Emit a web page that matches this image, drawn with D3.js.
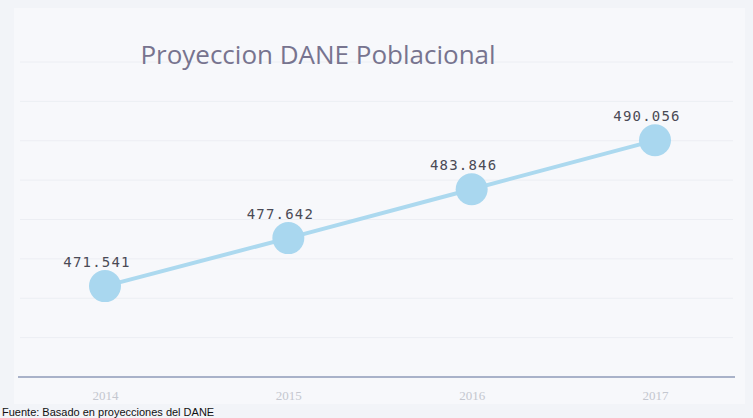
<!DOCTYPE html>
<html>
<head>
<meta charset="utf-8">
<script src="https://cdn.jsdelivr.net/npm/d3@7"></script>
<style>
  body { margin: 0; background: #f2f4f8; }
  svg { display: block; }
</style>
</head>
<body>
<div class="chart-container"></div>
<script>
const years = ['2014', '2015', '2016', '2017'];
const population = [471541, 477642, 483846, 490056];
const valueLabels = ['471.541', '477.642', '483.846', '490.056'];
const yTicks = [460000, 465000, 470000, 475000, 480000, 485000, 490000, 495000, 500000];

const width = 753, height = 418;
let margin = { top: 62, right: 30, bottom: 43, left: 15 };

let svg = d3.select('.chart-container')
  .append('svg')
  .attr('width', width)
  .attr('height', height);

// chart area background
svg.append('rect')
  .attr('x', 14).attr('y', 8)
  .attr('width', width - 22).attr('height', 396)
  .attr('fill', '#f7f8fb');

let x = d3.scalePoint()
  .domain(years)
  .range([105, 655]);

let y = d3.scaleLinear()
  .domain([460000, 500000])
  .range([height - margin.bottom + 2, margin.top]);

// gridlines
svg.append('g')
  .selectAll('line')
  .data(yTicks.slice(1))
  .join('line')
  .attr('x1', margin.left + 5)
  .attr('x2', width - margin.right + 10)
  .attr('y1', d => y(d))
  .attr('y2', d => y(d))
  .attr('stroke', '#eceef3')
  .attr('stroke-width', 1);

// x axis
let xAxis = svg.append('g')
  .attr('transform', 'translate(0,' + y(460000) + ')')
  .call(d3.axisBottom(x).tickSize(0).tickPadding(14));
xAxis.select('.domain')
  .attr('d', 'M' + (margin.left + 3) + ',0H' + (width - margin.right + 12))
  .attr('stroke', '#8f9bb8')
  .attr('stroke-width', 1.5);
xAxis.selectAll('text')
  .attr('fill', '#c4c7cf')
  .attr('font-family', 'Liberation Serif, serif')
  .attr('font-size', 13);

// line
svg.append('path')
  .datum(population)
  .attr('fill', 'none')
  .attr('stroke', '#acd9ef')
  .attr('stroke-width', 4)
  .attr('d', d3.line()
    .x((d, i) => x(years[i]))
    .y(d => y(d)));

// markers
svg.append('g')
  .selectAll('circle')
  .data(population)
  .join('circle')
  .attr('cx', (d, i) => x(years[i]))
  .attr('cy', d => y(d))
  .attr('r', 16)
  .attr('fill', '#a9d7ef');

// data labels
svg.append('g')
  .selectAll('text')
  .data(population)
  .join('text')
  .attr('x', (d, i) => x(years[i]) - 8)
  .attr('y', d => y(d) - 19)
  .attr('text-anchor', 'middle')
  .attr('font-family', 'DejaVu Sans Mono, monospace')
  .attr('font-size', 14)
  .attr('letter-spacing', 1.2)
  .attr('fill', '#4a4a55')
  .text((d, i) => valueLabels[i]);

// title
svg.append('text')
  .attr('x', 318)
  .attr('y', 64)
  .attr('text-anchor', 'middle')
  .attr('font-family', 'Open Sans, sans-serif')
  .attr('font-size', 26)
  .attr('fill', '#77748f')
  .text('Proyeccion DANE Poblacional');

// source note at the bottom edge
svg.append('text')
  .attr('x', 2)
  .attr('y', 416)
  .attr('font-family', 'Liberation Sans, Arial, sans-serif')
  .attr('font-size', 11)
  .attr('fill', '#111')
  .text('Fuente: Basado en proyecciones del DANE');
</script>
</body>
</html>
